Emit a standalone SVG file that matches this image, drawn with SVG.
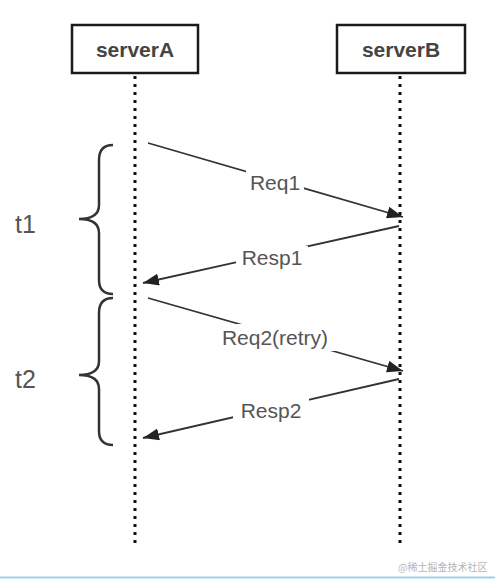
<svg xmlns="http://www.w3.org/2000/svg" width="495" height="579" viewBox="0 0 495 579">
<style>
.box{fill:#fff;stroke:#1a1a1a;stroke-width:2.5}
.btxt{font-family:"Liberation Sans",Arial,sans-serif;font-size:21px;font-weight:bold;fill:#444;text-anchor:middle}
.life{stroke:#111;stroke-width:3;stroke-dasharray:3 5;fill:none}
.msg{stroke:#333;stroke-width:1.8;fill:none;marker-end:url(#ah)}
.lbl{font-family:"Liberation Sans",Arial,sans-serif;font-size:21px;fill:#555;text-anchor:middle}
.lblbg{fill:#fff}
.brace{stroke:#333;stroke-width:2.5;fill:none}
.ttxt{font-family:"Liberation Sans",Arial,sans-serif;font-size:25px;fill:#555}
</style>
<defs>
<marker id="ah" markerUnits="userSpaceOnUse" markerWidth="18" markerHeight="12" refX="16" refY="6" orient="auto">
<path d="M0,0 L16,6 L0,12 Z" fill="#222"/>
</marker>
</defs>
<rect width="495" height="579" fill="#fff"/>
<g id="serverA">
<rect class="box" x="72" y="25" width="126" height="48"/>
<text class="btxt" x="135" y="57">serverA</text>
</g>
<g id="serverB">
<rect class="box" x="337" y="25" width="128" height="48"/>
<text class="btxt" x="401" y="57">serverB</text>
</g>
<g id="lifelines">
<line class="life" x1="135" y1="76" x2="135" y2="548"/>
<line class="life" x1="400" y1="76" x2="400" y2="548"/>
</g>
<g id="connectors">
<line class="msg" x1="148" y1="143" x2="403" y2="217"/>
<line class="msg" x1="399" y1="226" x2="143" y2="283"/>
<line class="msg" x1="148" y1="298" x2="403" y2="371"/>
<line class="msg" x1="399" y1="379" x2="143" y2="438"/>
<rect class="lblbg" x="246" y="170" width="58" height="25"/>
<text class="lbl" x="275" y="190">Req1</text>
<rect class="lblbg" x="236" y="246" width="72" height="25"/>
<text class="lbl" x="272" y="265">Resp1</text>
<rect class="lblbg" x="208" y="324" width="134" height="27"/>
<text class="lbl" x="275" y="345">Req2(retry)</text>
<rect class="lblbg" x="233" y="398" width="76" height="25"/>
<text class="lbl" x="271" y="418">Resp2</text>
</g>
<g id="t1">
<path class="brace" d="M113,145 Q99,145 99,160 L99,205 Q99,219 79,219 Q99,219 99,233 L99,280 Q99,294 113,294"/>
<text class="ttxt" x="15" y="233">t1</text>
</g>
<g id="t2">
<path class="brace" d="M113,298 Q99,298 99,313 L99,361 Q99,375 79,375 Q99,375 99,389 L99,431 Q99,445 113,445"/>
<text class="ttxt" x="15" y="388">t2</text>
</g>
<text x="398" y="571" font-family="'Noto Sans CJK SC',sans-serif" font-size="10" fill="#b5b5b5">@稀土掘金技术社区</text>
<line x1="0" y1="577.5" x2="495" y2="577.5" stroke="#9fd0ee" stroke-width="2"/>
</svg>
